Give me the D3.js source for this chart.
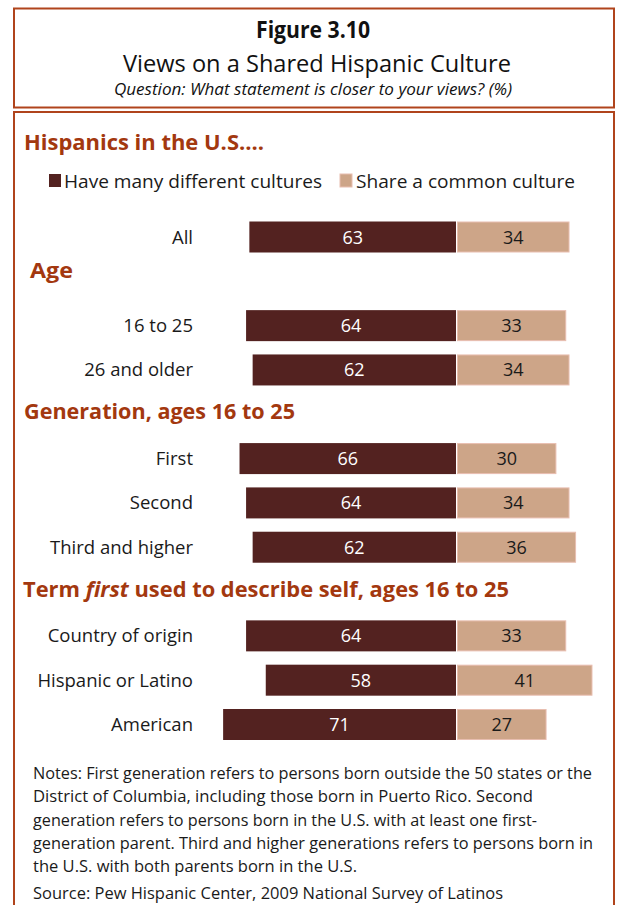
<!DOCTYPE html>
<html>
<head>
<meta charset="utf-8">
<script src="https://cdn.jsdelivr.net/npm/d3@7/dist/d3.min.js"></script>
<style>
  html, body { margin: 0; padding: 0; background: #fff; }
  svg { display: block; font-family: "Open Sans", "DejaVu Sans", sans-serif; }
</style>
</head>
<body>
<svg id="chart" width="618" height="905"></svg>
<script>
// Survey results (%), grouped by section
const sections = ["Hispanics in the U.S….", "Age", "Generation, ages 16 to 25", "Term first used to describe self, ages 16 to 25"];
const categories = ["All", "16 to 25", "26 and older", "First", "Second", "Third and higher", "Country of origin", "Hispanic or Latino", "American"];
const categorySection = [0, 1, 1, 2, 2, 2, 3, 3, 3];
const manyCultures = [63, 64, 62, 66, 64, 62, 64, 58, 71];
const commonCulture = [34, 33, 34, 30, 34, 36, 33, 41, 27];
const seriesNames = ["Have many different cultures", "Share a common culture"];

const titleText = "Figure 3.10";
const subtitleText = "Views on a Shared Hispanic Culture";
const questionText = "Question: What statement is closer to your views? (%)";
const noteLines = [
  "Notes: First generation refers to persons born outside the 50 states or the",
  "District of Columbia, including those born in Puerto Rico. Second",
  "generation refers to persons born in the U.S. with at least one first-",
  "generation parent. Third and higher generations refers to persons born in",
  "the U.S. with both parents born in the U.S."
];
const sourceText = "Source: Pew Hispanic Center, 2009 National Survey of Latinos";

const colors = { dark: "#532220", light: "#cda588", lightEdge: "#e8beb0", rust: "#b0441c", heading: "#a3380f", text: "#1a1a1a" };

const svg = d3.select("#chart");

// Frame: title box and body box
const frame = svg.append("g").attr("fill", "none").attr("stroke", colors.rust).attr("stroke-width", 2);
frame.append("rect").attr("x", 14).attr("y", 8.5).attr("width", 600).attr("height", 99);
frame.append("path").attr("d", "M14,912 V112 H614 V912");

// Title block
svg.append("text").attr("x", 313).attr("y", 38).attr("text-anchor", "middle")
  .attr("font-size", 24).attr("font-weight", 700).attr("fill", "#111")
  .attr("textLength", 114).attr("lengthAdjust", "spacingAndGlyphs").text(titleText);
svg.append("text").attr("x", 317).attr("y", 72).attr("text-anchor", "middle")
  .attr("font-size", 23).attr("fill", "#111")
  .attr("textLength", 388).attr("lengthAdjust", "spacingAndGlyphs").text(subtitleText);
svg.append("text").attr("x", 313).attr("y", 95).attr("text-anchor", "middle")
  .attr("font-size", 16).attr("font-style", "italic").attr("fill", "#111")
  .attr("textLength", 398).attr("lengthAdjust", "spacingAndGlyphs").text(questionText);

// Row slots: each category sits on its own slot, with one spare slot between sections
const slotOf = [0, 2, 3, 5, 6, 7, 9, 10, 11];
const y = d3.scaleLinear().domain([0, 11]).range([237, 724.5]);

// Diverging scales from the shared centre line
const centre = 456;
const unit = 3.28;
const xLeft = d3.scaleLinear().domain([0, 100]).range([centre, centre - 100 * unit]);
const xRight = d3.scaleLinear().domain([0, 100]).range([centre + 1.5, centre + 1.5 + 100 * unit]);
const barH = 31;

// Section headings
const headingBaseline = [150, y(slotOf[1]) - 48, y(slotOf[3]) - 40, y(slotOf[6]) - 39];
const headingX = [24, 30, 24, 23];
const heads = svg.append("g").attr("fill", colors.heading).attr("font-weight", 700).attr("font-size", 22);
sections.forEach((s, i) => {
  const t = heads.append("text").attr("x", headingX[i]).attr("y", headingBaseline[i]);
  if (i === 3) {
    t.append("tspan").text("Term ");
    t.append("tspan").attr("font-style", "italic").text("first");
    t.append("tspan").text(" used to describe self, ages 16 to 25");
    t.attr("textLength", 486).attr("lengthAdjust", "spacingAndGlyphs");
  } else {
    t.text(s);
    if (i === 0) t.attr("textLength", 240).attr("lengthAdjust", "spacingAndGlyphs");
    if (i === 1) t.attr("textLength", 43).attr("lengthAdjust", "spacingAndGlyphs");
    if (i === 2) t.attr("textLength", 271).attr("lengthAdjust", "spacingAndGlyphs");
  }
});

// Legend
const legend = svg.append("g").attr("font-size", 19).attr("fill", colors.text);
legend.append("rect").attr("x", 49).attr("y", 174).attr("width", 12).attr("height", 13).attr("fill", colors.dark);
legend.append("text").attr("x", 64).attr("y", 187.5).attr("fill", colors.text)
  .attr("textLength", 258).attr("lengthAdjust", "spacingAndGlyphs").text(seriesNames[0]);
legend.append("rect").attr("x", 340).attr("y", 174).attr("width", 12).attr("height", 13)
  .attr("fill", colors.light).attr("stroke", colors.lightEdge).attr("stroke-width", 1);
legend.append("text").attr("x", 356).attr("y", 187.5).attr("fill", colors.text)
  .attr("textLength", 219).attr("lengthAdjust", "spacingAndGlyphs").text(seriesNames[1]);

// Bars
const rows = svg.append("g").selectAll("g").data(categories).join("g")
  .attr("transform", (d, i) => `translate(0,${y(slotOf[i])})`);

rows.append("text").attr("x", 193).attr("y", 6.5).attr("text-anchor", "end")
  .attr("font-size", 18.5).attr("fill", colors.text).text(d => d);

rows.append("rect")
  .attr("x", (d, i) => xLeft(manyCultures[i])).attr("y", -barH / 2)
  .attr("width", (d, i) => xLeft(0) - xLeft(manyCultures[i])).attr("height", barH)
  .attr("fill", colors.dark);

rows.append("rect")
  .attr("x", xRight(0)).attr("y", -barH / 2 + 0.5)
  .attr("width", (d, i) => xRight(commonCulture[i]) - xRight(0)).attr("height", barH - 1)
  .attr("fill", colors.light).attr("stroke", colors.lightEdge).attr("stroke-width", 1);

rows.append("text")
  .attr("x", (d, i) => (xLeft(manyCultures[i]) + xLeft(0)) / 2).attr("y", 6.5)
  .attr("text-anchor", "middle").attr("font-size", 18).attr("fill", "#fff")
  .text((d, i) => manyCultures[i]);

rows.append("text")
  .attr("x", (d, i) => (xRight(commonCulture[i]) + xRight(0)) / 2).attr("y", 6.5)
  .attr("text-anchor", "middle").attr("font-size", 18).attr("fill", colors.text)
  .text((d, i) => commonCulture[i]);

// Notes and source
const noteWidths = [559, 500, 504, 560, 324];
const notes = svg.append("g").attr("font-size", 16.5).attr("fill", colors.text);
noteLines.forEach((line, i) => {
  notes.append("text").attr("x", 33).attr("y", 779 + i * 23.3)
    .attr("textLength", noteWidths[i]).attr("lengthAdjust", "spacingAndGlyphs").text(line);
});
notes.append("text").attr("x", 33).attr("y", 899)
  .attr("textLength", 470).attr("lengthAdjust", "spacingAndGlyphs").text(sourceText);
</script>
</body>
</html>
